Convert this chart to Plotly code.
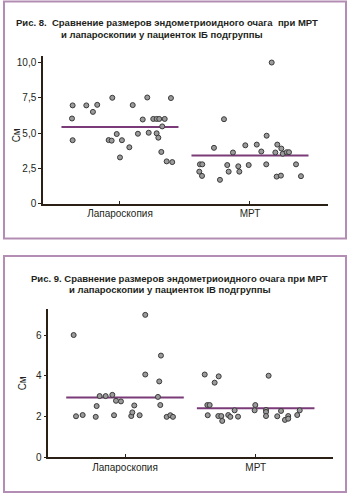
import plotly.graph_objects as go

# ---------------- data ----------------
categories = ["Лапароскопия", "МРТ"]

# Fig. 8 (IБ subgroup)
lap8_values = [6.96, 6.03, 4.49, 6.96, 6.5, 7.0, 7.5, 4.5, 4.46, 4.93, 3.27, 4.49, 3.99, 6.98, 4.95,
               5.96, 7.52, 5.02, 6.0, 6.0, 6.0, 6.0, 4.98, 4.67, 5.47, 3.66, 2.99, 2.94, 7.48]
lap8_jitter = [-0.364, -0.369, -0.364, -0.259, -0.208, -0.175, -0.059, -0.087, -0.064, -0.025, 0.0, 0.015,
               0.072, 0.098, 0.138, 0.175, 0.21, 0.221, 0.256, 0.282, 0.302, 0.344, 0.282, 0.295, 0.325,
               0.318, 0.359, 0.402, 0.392]
mrt8_values = [10.0, 5.98, 4.81, 3.95, 3.62, 4.13, 4.18, 3.69, 4.18, 3.90, 3.62, 3.53, 3.64, 3.64, 2.78,
               2.78, 2.26, 1.96, 1.68, 2.73, 2.26, 2.64, 2.26, 2.73, 2.78, 1.91, 1.98, 2.78, 1.94]
mrt8_jitter = [0.167, -0.2, 0.128, -0.277, -0.131, -0.036, 0.052, 0.087, 0.21, 0.241, 0.195, 0.252, 0.282,
               0.3, -0.385, -0.367, -0.39, -0.369, -0.231, -0.175, -0.164, -0.09, -0.082, -0.01, 0.125,
               0.205, 0.238, 0.354, 0.392]
means8 = [5.42, 3.41]
yticks8 = [0, 2.5, 5.0, 7.5, 10.0]
yticktext8 = ["0", "2,5", "5,0", "7,5", "10,0"]

# Fig. 9 (IВ subgroup)
lap9_values = [6.0, 2.01, 2.07, 1.98, 2.51, 3.0, 3.0, 3.06, 2.06, 2.77, 2.74, 2.02, 2.2, 2.54, 2.06,
               6.99, 4.06, 4.99, 3.72, 2.96, 2.56, 1.98, 2.06, 1.98]
lap9_jitter = [-0.393, -0.375, -0.324, -0.224, -0.217, -0.194, -0.148, -0.097, -0.084, -0.069, -0.031,
               0.048, 0.056, 0.071, 0.112, 0.155, 0.155, 0.275, 0.262, 0.252, 0.27, 0.319, 0.347, 0.367]
mrt9_values = [4.06, 3.97, 3.66, 4.0, 2.56, 2.56, 2.06, 2.02, 2.02, 1.78, 2.07, 1.98, 2.3, 1.99, 2.56,
               2.3, 2.32, 2.22, 2.02, 2.01, 2.27, 1.83, 2.02, 1.89, 2.07, 2.3]
mrt9_jitter = [-0.39, -0.283, -0.314, 0.099, -0.37, -0.352, -0.367, -0.286, -0.263, -0.256, -0.21,
               -0.194, -0.161, -0.135, -0.003, -0.008, 0.079, 0.079, 0.079, 0.165, 0.194, 0.224, 0.249,
               0.249, 0.318, 0.337]
means9 = [2.93, 2.40]
yticks9 = [0, 2, 4, 6]
yticktext9 = ["0", "2", "4", "6"]

title8 = ["Рис. 8.  Сравнение размеров эндометриоидного очага  при МРТ",
          "и лапароскопии у пациенток IБ подгруппы"]
title9 = ["Рис. 9. Сравнение размеров эндометриоидного очага при МРТ",
          "и лапароскопии у пациенток IВ подгруппы"]
ylabel = "См"

# ---------------- style ----------------
W, H = 350, 502
FONT = "Liberation Sans, Arial, sans-serif"
TXT = "#231f20"
AXC = "#2b2016"
MEANC = "#7b3b78"
BORDER = "#b38db3"
HALF = 0.45


def px(x):
    return x / W


def py(y):
    return 1 - y / H


fig = go.Figure()


def add_panel(xa, ya, lap_v, lap_j, mrt_v, mrt_j, means):
    for i, m in enumerate(means):
        fig.add_trace(go.Scatter(x=[i - HALF, i + HALF], y=[m, m], mode="lines",
                                 line=dict(color=MEANC, width=2), xaxis=xa, yaxis=ya,
                                 hoverinfo="skip"))
    for i, (vals, jit) in enumerate([(lap_v, lap_j), (mrt_v, mrt_j)]):
        fig.add_trace(go.Scatter(x=[i + j for j in jit], y=vals, mode="markers",
                                 marker=dict(size=5, color="#9b9b9b",
                                             line=dict(color="#3a3a3a", width=1)),
                                 xaxis=xa, yaxis=ya))


add_panel("x", "y", lap8_values, lap8_jitter, mrt8_values, mrt8_jitter, means8)
add_panel("x2", "y2", lap9_values, lap9_jitter, mrt9_values, mrt9_jitter, means9)

xcommon = dict(showgrid=False, zeroline=False, showline=True, linecolor=AXC, linewidth=1.5,
               ticks="inside", ticklen=3, tickcolor=AXC, tickvals=[0, 1], ticktext=categories,
               tickfont=dict(family=FONT, size=10, color=TXT), fixedrange=True)
ycommon = dict(showgrid=False, zeroline=False, showline=True, linecolor=AXC, linewidth=1.5,
               ticks="outside", ticklen=3, tickcolor=AXC,
               tickfont=dict(family=FONT, size=10, color=TXT), fixedrange=True)

fig.update_layout(
    width=W, height=H, margin=dict(l=0, r=0, t=0, b=0),
    paper_bgcolor="white", plot_bgcolor="white", showlegend=False,
    xaxis=dict(xcommon, domain=[px(43), px(328)], range=[-0.592, 1.6], anchor="y"),
    yaxis=dict(ycommon, domain=[py(206), py(57)], range=[0, 10.44], anchor="x",
               tickvals=yticks8, ticktext=yticktext8),
    xaxis2=dict(xcommon, domain=[px(48.3), px(333.3)], range=[-0.587, 1.594], anchor="y2"),
    yaxis2=dict(ycommon, domain=[py(462.7), py(312.7)], range=[0, 7.28], anchor="x2",
                tickvals=yticks9, ticktext=yticktext9),
)

# panel borders
for y0, y1 in [(1.5, 241.5), (259, 498)]:
    fig.add_shape(type="rect", xref="paper", yref="paper", x0=px(4), x1=px(346),
                  y0=py(y1), y1=py(y0), line=dict(color=BORDER, width=2), layer="below")

# titles (text, x-centre, y-centre)
title_layout = [(title8[0], 166.5, 22.5), (title8[1], 162, 34.5),
                (title9[0], 179, 281.5), (title9[1], 170, 293.5)]
for text, cx, cy in title_layout:
    fig.add_annotation(x=px(cx), y=py(cy), xref="paper", yref="paper", text="<b>%s</b>" % text,
                       showarrow=False, xanchor="center", yanchor="middle",
                       font=dict(family=FONT, size=9.5, color=TXT))

# y labels
for xx, yy in [(16, 137), (22, 388)]:
    fig.add_annotation(x=px(xx), y=py(yy), xref="paper", yref="paper", text=ylabel, textangle=-90,
                       showarrow=False, xanchor="center", yanchor="middle",
                       font=dict(family=FONT, size=10, color=TXT))

fig.write_html("out.html")
